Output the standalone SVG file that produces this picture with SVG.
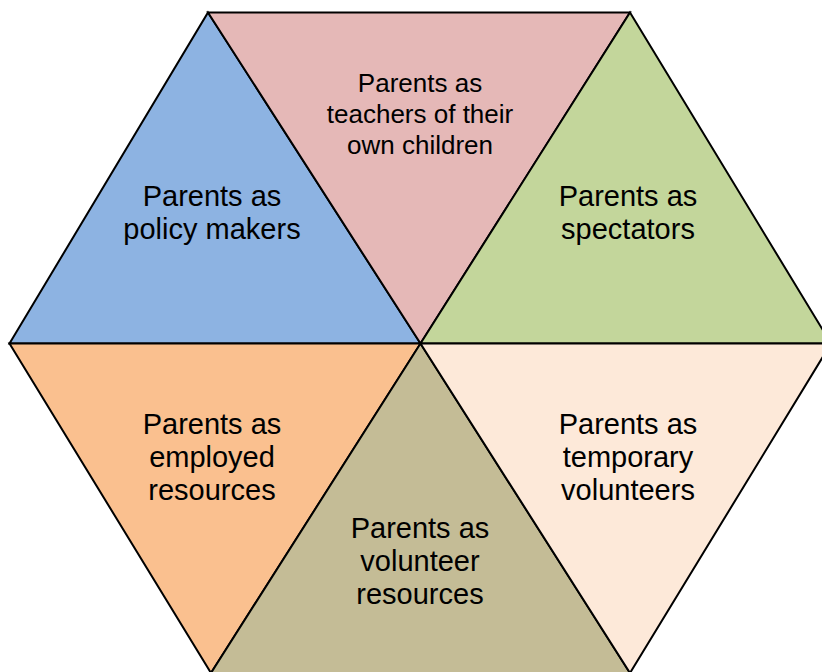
<svg xmlns="http://www.w3.org/2000/svg" width="822" height="672" viewBox="0 0 822 672">
<style>
.tri{stroke:#000;stroke-width:2;stroke-linejoin:miter}
.lbl{font-family:"Liberation Sans",Arial,sans-serif;font-size:29px;fill:#000;text-anchor:middle}
.sm{font-size:26px}
</style>
<rect width="822" height="672" fill="#fff"/>
<g id="policy-makers">
<polygon class="tri" fill="#8DB3E2" points="208,12.5 420.5,343.5 9.5,343.5"/>
<text class="lbl" x="212" y="206">Parents as</text>
<text class="lbl" x="212" y="239">policy makers</text>
</g>
<g id="teachers">
<polygon class="tri" fill="#E5B8B7" points="208,12.5 630,12.5 420.5,343.5"/>
<text class="lbl sm" x="420" y="92">Parents as</text>
<text class="lbl sm" x="420" y="123">teachers of their</text>
<text class="lbl sm" x="420" y="154">own children</text>
</g>
<g id="spectators">
<polygon class="tri" fill="#C3D69B" points="630,12.5 831,343.5 420.5,343.5"/>
<text class="lbl" x="628" y="206">Parents as</text>
<text class="lbl" x="628" y="239">spectators</text>
</g>
<g id="employed-resources">
<polygon class="tri" fill="#FAC08F" points="9.5,343.5 420.5,343.5 211,673"/>
<text class="lbl" x="212" y="434">Parents as</text>
<text class="lbl" x="212" y="467">employed</text>
<text class="lbl" x="212" y="500">resources</text>
</g>
<g id="volunteer-resources">
<polygon class="tri" fill="#C4BC96" points="420.5,343.5 630,673 211,673"/>
<text class="lbl" x="420" y="538">Parents as</text>
<text class="lbl" x="420" y="571">volunteer</text>
<text class="lbl" x="420" y="604">resources</text>
</g>
<g id="temporary-volunteers">
<polygon class="tri" fill="#FDE9D9" points="420.5,343.5 831,343.5 630,673"/>
<text class="lbl" x="628" y="434">Parents as</text>
<text class="lbl" x="628" y="467">temporary</text>
<text class="lbl" x="628" y="500">volunteers</text>
</g>
<g id="connectors"></g>
</svg>
